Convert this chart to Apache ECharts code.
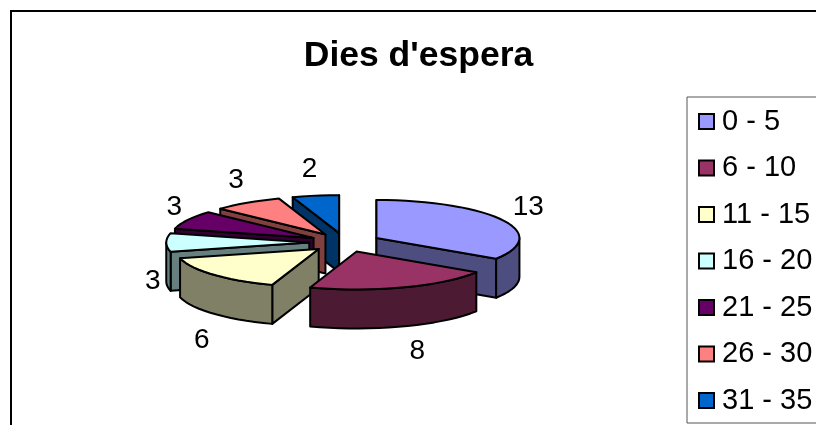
<!DOCTYPE html>
<html>
<head>
<meta charset="utf-8">
<style>html,body{margin:0;padding:0;background:#fff;overflow:hidden}#c{width:816px;height:425px}</style>
<script src="https://cdn.jsdelivr.net/npm/echarts@6/dist/echarts.min.js"></script>
</head>
<body>
<div id="c"></div>
<script>
var titleText = "Dies d'espera";
var categories = ['0 - 5', '6 - 10', '11 - 15', '16 - 20', '21 - 25', '26 - 30', '31 - 35'];
var values = [13, 8, 6, 3, 3, 3, 2];
var topColors = ['#9999FF', '#993366', '#FFFFCC', '#CCFFFF', '#660066', '#FF8080', '#0066CC'];
var sideColors = ['#4D4D80', '#4D1A33', '#808066', '#668080', '#330033', '#804040', '#003366'];
var labelNudge = [[5, 0], [6.4, -1], [6, 8], [10.5, 0], [7.7, 0], [2, 0], [-2.2, 0]];

var view = { cx: 345, cy: 242.5, rx: 143, ry: 38, depth: 39, explode: 0.25, labelX: 24, labelY: 27 };
var total = values.reduce(function (a, b) { return a + b; }, 0);
var rad = Math.PI / 180;

var spans = [];
values.reduce(function (acc, v) {
  var end = acc + v / total * 360;
  spans.push([acc, end]);
  return end;
}, 0);

function mid(i) { return (spans[i][0] + spans[i][1]) / 2; }
function apex(i) {
  var m = mid(i) * rad;
  return [view.cx + view.explode * view.rx * Math.sin(m), view.cy - view.explode * view.ry * Math.cos(m)];
}
function rim(a0, deg, dy) {
  return [a0[0] + view.rx * Math.sin(deg * rad), a0[1] - view.ry * Math.cos(deg * rad) + (dy || 0)];
}
function arcPts(a0, from, to, dy) {
  var n = Math.max(2, Math.ceil(Math.abs(to - from) / 4));
  var out = [];
  for (var k = 0; k <= n; k++) out.push(rim(a0, from + (to - from) * k / n, dy));
  return out;
}

var order = categories.map(function (_, i) { return i; }).sort(function (p, q) {
  return Math.cos(mid(q) * rad) - Math.cos(mid(p) * rad);
});

function face(points, fill) {
  return {
    type: 'polygon',
    shape: { points: points },
    style: { fill: fill, stroke: '#000', lineWidth: 2, lineJoin: 'round' }
  };
}

function renderSlice(params, api) {
  var i = params.seriesIndex;
  var a1 = spans[i][0], a2 = spans[i][1];
  var A = apex(i), d = view.depth;
  var kids = [];
  var radial = function (deg) {
    var e = rim(A, deg);
    return [A, e, [e[0], e[1] + d], [A[0], A[1] + d]];
  };
  if (Math.cos((a1 - 90) * rad) < 1e-6) kids.push(face(radial(a1), sideColors[i]));
  if (Math.cos((a2 + 90) * rad) < 1e-6) kids.push(face(radial(a2), sideColors[i]));
  var w1 = Math.max(a1, 90), w2 = Math.min(a2, 270);
  if (w2 > w1) {
    kids.push(face(arcPts(A, w1, w2, 0).concat(arcPts(A, w2, w1, d)), sideColors[i]));
  }
  kids.push(face([A].concat(arcPts(A, a1, a2, 0)), topColors[i]));

  var m = mid(i) * rad, edge = rim(A, mid(i), Math.cos(m) < 0.1 ? d : 0);
  kids.push({
    type: 'text',
    style: {
      text: String(api.value(0)),
      x: edge[0] + view.labelX * Math.sin(m) + labelNudge[i][0],
      y: edge[1] - view.labelY * Math.cos(m) + labelNudge[i][1],
      fill: '#000',
      font: '28px "Liberation Sans", Arial, sans-serif',
      textAlign: 'center',
      textVerticalAlign: 'middle'
    }
  });
  return { type: 'group', children: kids };
}

var series = categories.map(function (name, i) {
  return {
    type: 'custom',
    name: name,
    coordinateSystem: 'none',
    renderItem: renderSlice,
    z: 2 + order.indexOf(i),
    silent: true,
    animation: false,
    itemStyle: { color: topColors[i] },
    data: [[values[i]]]
  };
});

var chart = echarts.init(document.getElementById('c'), null, { renderer: 'canvas' });
chart.setOption({
  animation: false,
  backgroundColor: '#fff',
  title: {
    text: titleText,
    left: 413.5,
    top: 33,
    textAlign: 'center',
    textStyle: { fontFamily: '"Liberation Sans", Arial, sans-serif', fontWeight: 'bold', fontSize: 35.5, color: '#000' }
  },
  legend: {
    orient: 'vertical',
    left: 687,
    top: 97,
    padding: [10, 200, 8, 11],
    borderColor: '#555',
    borderWidth: 1,
    itemWidth: 15,
    itemHeight: 15,
    itemGap: 17.5,
    selectedMode: false,
    icon: 'rect',
    itemStyle: { borderColor: '#000', borderWidth: 2 },
    textStyle: { fontFamily: '"Liberation Sans", Arial, sans-serif', fontSize: 29, lineHeight: 27, color: '#000', padding: [0, 0, 0, 3] },
    data: categories
  },
  graphic: [{
    type: 'rect',
    silent: true,
    z: 0,
    shape: { x: 11, y: 11, width: 1000, height: 1000 },
    style: { fill: 'none', stroke: '#000', lineWidth: 2 }
  }],
  series: series
});
</script>
</body>
</html>
